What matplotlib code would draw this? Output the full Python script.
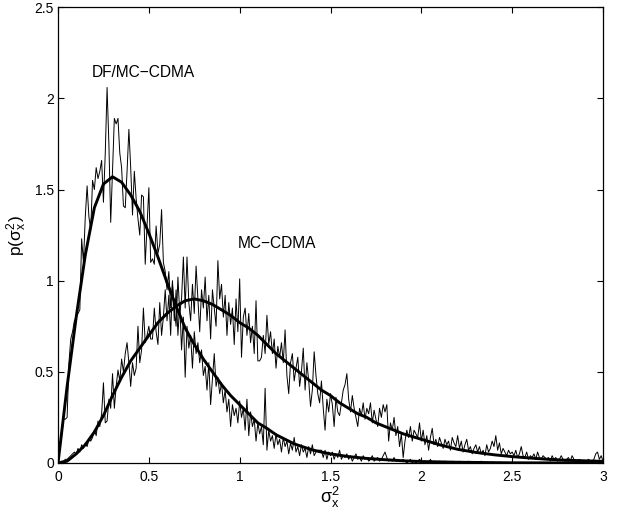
import numpy as np
import matplotlib
matplotlib.use("Agg")
import matplotlib.pyplot as plt

plt.rcParams['font.family'] = ['Liberation Sans', 'DejaVu Sans']
plt.rcParams['mathtext.fontset'] = 'custom'
plt.rcParams['mathtext.rm'] = 'Liberation Sans'
plt.rcParams['mathtext.it'] = 'Liberation Sans'

# ---- data ----
step = 0.01
df_hist = [
    0.00, 0.08, 0.15, 0.24, 0.24, 0.25, 0.55, 0.68, 0.72, 0.78,
    0.80, 0.82, 0.84, 1.23, 1.10, 1.35, 1.52, 1.35, 1.28, 1.55,
    1.50, 1.62, 1.56, 1.60, 1.66, 1.43, 1.70, 2.06, 1.75, 1.32,
    1.60, 1.89, 1.86, 1.89, 1.70, 1.62, 1.41, 1.40, 1.60, 1.83,
    1.62, 1.36, 1.60, 1.45, 1.34, 1.25, 1.47, 1.46, 1.09, 1.30,
    1.51, 1.10, 1.12, 1.09, 1.30, 1.15, 1.20, 1.39, 1.10, 1.05,
    0.95, 1.05, 0.85, 1.00, 0.78, 0.95, 0.70, 0.88, 0.62, 0.80,
    0.47, 0.75, 0.63, 0.70, 0.52, 0.72, 0.60, 0.66, 0.55, 0.62,
    0.48, 0.53, 0.40, 0.55, 0.32, 0.46, 0.60, 0.42, 0.47, 0.38,
    0.44, 0.33, 0.40, 0.28, 0.35, 0.20, 0.32, 0.26, 0.30, 0.22,
    0.34, 0.25, 0.30, 0.18, 0.35, 0.15, 0.28, 0.20, 0.24, 0.12,
    0.22, 0.16, 0.20, 0.10, 0.41, 0.07, 0.18, 0.12, 0.15, 0.08,
    0.16, 0.10, 0.13, 0.06, 0.14, 0.09, 0.12, 0.05, 0.11, 0.07,
    0.14, 0.06, 0.09, 0.04, 0.10, 0.06, 0.08, 0.03, 0.09, 0.05,
    0.10, 0.04, 0.06, 0.07, 0.07, 0.07, 0.03, 0.07, 0.02, 0.06,
    0.04, 0.06, 0.02, 0.05, 0.03, 0.07, 0.02, 0.04, 0.03, 0.05,
    0.02, 0.04, 0.01, 0.03, 0.05, 0.02, 0.03, 0.01, 0.04, 0.02,
    0.03, 0.01, 0.02, 0.04, 0.01, 0.02, 0.03, 0.01, 0.02, 0.04,
    0.06, 0.03, 0.01, 0.02, 0.01, 0.03, 0.01, 0.02, 0.01, 0.01,
    0.02, 0.01, 0.00, 0.01, 0.02, 0.00, 0.01, 0.00, 0.01, 0.02,
    0.01, 0.00, 0.01, 0.00, 0.00, 0.02, 0.00, 0.01, 0.00, 0.00,
    0.01, 0.00, 0.00, 0.01, 0.00, 0.00, 0.00, 0.01, 0.00, 0.00,
    0.00, 0.01, 0.00, 0.00, 0.00, 0.00, 0.01, 0.00, 0.00, 0.00,
    0.00, 0.00, 0.00, 0.01, 0.00, 0.00, 0.00, 0.00, 0.00, 0.00,
    0.00, 0.00, 0.00, 0.00, 0.00, 0.00, 0.00, 0.00, 0.00, 0.00,
    0.00, 0.00, 0.00, 0.00, 0.00, 0.00, 0.00, 0.00, 0.00, 0.00,
    0.00, 0.00, 0.00, 0.00, 0.00, 0.00, 0.00, 0.00, 0.00, 0.00,
    0.00, 0.00, 0.00, 0.00, 0.00, 0.00, 0.00, 0.00, 0.00, 0.00,
    0.00, 0.00, 0.00, 0.00, 0.00, 0.00, 0.00, 0.00, 0.00, 0.00,
    0.00, 0.00, 0.00, 0.00, 0.00, 0.00, 0.00, 0.00, 0.00, 0.00,
    0.00,
]

mc_hist = [
    0.00, 0.00, 0.01, 0.01, 0.02, 0.02, 0.03, 0.04, 0.05, 0.06,
    0.05, 0.08, 0.06, 0.10, 0.08, 0.11, 0.09, 0.13, 0.12, 0.14,
    0.18, 0.15, 0.23, 0.20, 0.27, 0.44, 0.22, 0.23, 0.35, 0.30,
    0.49, 0.30, 0.42, 0.51, 0.45, 0.57, 0.50, 0.60, 0.66, 0.55,
    0.42, 0.55, 0.48, 0.52, 0.75, 0.55, 0.62, 0.85, 0.66, 0.70,
    0.75, 0.68, 0.68, 0.85, 0.72, 0.65, 0.88, 0.70, 0.80, 0.95,
    0.78, 0.92, 0.70, 0.98, 0.85, 0.75, 1.02, 0.82, 0.90, 1.13,
    0.85, 1.13, 0.88, 0.78, 0.98, 0.82, 1.08, 0.90, 0.72, 0.95,
    0.85, 1.02, 0.78, 0.92, 0.68, 0.95, 0.85, 0.75, 1.11, 0.90,
    0.98, 0.80, 0.92, 0.70, 0.88, 0.76, 0.85, 0.65, 0.90, 0.72,
    1.01, 0.58, 0.80, 0.85, 0.70, 0.82, 0.66, 0.75, 0.60, 0.89,
    0.56, 0.56, 0.58, 0.70, 0.60, 0.81, 0.65, 0.72, 0.60, 0.68,
    0.52, 0.64, 0.58, 0.66, 0.55, 0.73, 0.48, 0.38, 0.55, 0.60,
    0.45, 0.52, 0.58, 0.42, 0.50, 0.63, 0.40, 0.55, 0.45, 0.31,
    0.40, 0.61, 0.48, 0.38, 0.33, 0.45, 0.30, 0.18, 0.35, 0.28,
    0.38, 0.32, 0.20, 0.36, 0.28, 0.26, 0.33, 0.40, 0.43, 0.49,
    0.35, 0.28, 0.37, 0.30, 0.25, 0.20, 0.30, 0.26, 0.33, 0.24,
    0.30, 0.27, 0.33, 0.22, 0.29, 0.24, 0.20, 0.30, 0.25, 0.32,
    0.28, 0.32, 0.12, 0.22, 0.18, 0.25, 0.15, 0.20, 0.09, 0.16,
    0.03, 0.12, 0.18, 0.14, 0.20, 0.12, 0.18, 0.16, 0.14, 0.22,
    0.12, 0.18, 0.10, 0.15, 0.07, 0.14, 0.19, 0.10, 0.13, 0.09,
    0.14, 0.11, 0.08, 0.13, 0.10, 0.12, 0.07, 0.14, 0.11, 0.09,
    0.15, 0.08, 0.12, 0.06, 0.10, 0.13, 0.07, 0.09, 0.05, 0.08,
    0.10, 0.06, 0.09, 0.05, 0.07, 0.04, 0.10, 0.06, 0.08, 0.12,
    0.09, 0.15, 0.07, 0.11, 0.05, 0.08, 0.06, 0.04, 0.07, 0.05,
    0.06, 0.04, 0.07, 0.03, 0.05, 0.09, 0.04, 0.03, 0.06, 0.02,
    0.04, 0.03, 0.05, 0.02, 0.06, 0.03, 0.02, 0.04, 0.03, 0.02,
    0.03, 0.01, 0.04, 0.02, 0.03, 0.01, 0.02, 0.04, 0.02, 0.01,
    0.02, 0.03, 0.01, 0.04, 0.02, 0.01, 0.01, 0.02, 0.01, 0.01,
    0.01, 0.01, 0.02, 0.01, 0.01, 0.02, 0.05, 0.06, 0.02, 0.04,
    0.01,
]

df_fit_x = [0.00, 0.05, 0.10, 0.15, 0.20, 0.25, 0.30, 0.35, 0.40, 0.45,
            0.50, 0.55, 0.60, 0.65, 0.70, 0.75, 0.80, 0.85, 0.90, 0.95,
            1.00, 1.05, 1.10, 1.15, 1.20, 1.25, 1.30, 1.35, 1.40, 1.45,
            1.50, 1.60, 1.70, 1.80, 1.90, 2.00, 2.20, 2.50, 3.00]
df_fit_y = [0.00, 0.42, 0.80, 1.14, 1.40, 1.53, 1.57, 1.54, 1.47, 1.38,
            1.26, 1.13, 0.99, 0.86, 0.74, 0.65, 0.57, 0.50, 0.43, 0.37,
            0.32, 0.27, 0.22, 0.19, 0.155, 0.13, 0.105, 0.088, 0.072, 0.060,
            0.050, 0.035, 0.025, 0.018, 0.012, 0.008, 0.004, 0.001, 0.000]

mc_fit_x = [0.00, 0.05, 0.10, 0.15, 0.20, 0.25, 0.30, 0.35, 0.40, 0.45,
            0.50, 0.55, 0.60, 0.65, 0.70, 0.75, 0.80, 0.85, 0.90, 0.95,
            1.00, 1.05, 1.10, 1.15, 1.20, 1.25, 1.30, 1.35, 1.40, 1.45,
            1.50, 1.55, 1.60, 1.65, 1.70, 1.75, 1.80, 1.85, 1.90, 1.95,
            2.00, 2.10, 2.20, 2.30, 2.40, 2.50, 2.60, 2.70, 2.80, 2.90, 3.00]
mc_fit_y = [0.00, 0.01, 0.05, 0.10, 0.17, 0.26, 0.37, 0.47, 0.56, 0.63,
            0.70, 0.77, 0.82, 0.86, 0.89, 0.90, 0.89, 0.87, 0.84, 0.81,
            0.77, 0.74, 0.70, 0.65, 0.60, 0.56, 0.52, 0.48, 0.44, 0.40,
            0.37, 0.33, 0.30, 0.27, 0.25, 0.22, 0.20, 0.18, 0.16, 0.145,
            0.13, 0.10, 0.075, 0.058, 0.045, 0.035, 0.027, 0.020, 0.015, 0.012, 0.009]

x_ticks = [0, 0.5, 1, 1.5, 2, 2.5, 3]
x_tick_labels = ["0", "0.5", "1", "1.5", "2", "2.5", "3"]
y_ticks = [0, 0.5, 1, 1.5, 2, 2.5]
y_tick_labels = ["0", "0.5", "1", "1.5", "2", "2.5"]

hist_x = np.arange(len(df_hist)) * step

# ---- plot ----
fig = plt.figure(figsize=(6.37, 5.15), dpi=100)
ax = fig.add_axes([0.0911, 0.101, 0.8555, 0.885])

ax.plot(hist_x, df_hist, color='black', lw=0.7)
ax.plot(hist_x, mc_hist, color='black', lw=0.7)
ax.plot(df_fit_x, df_fit_y, color='black', lw=2.1)
ax.plot(mc_fit_x, mc_fit_y, color='black', lw=2.1)

ax.set_xlim(0, 3)
ax.set_ylim(0, 2.5)
ax.set_xticks(x_ticks)
ax.set_xticklabels(x_tick_labels)
ax.set_yticks(y_ticks)
ax.set_yticklabels(y_tick_labels)
ax.tick_params(direction='in', length=4.5, width=0.8, top=True, right=True,
               labelsize=10)
ax.tick_params(axis='x', pad=5)
ax.tick_params(axis='y', pad=3)
for s in ax.spines.values():
    s.set_linewidth(0.9)

ax.set_xlabel(r'$\sigma_x^2$', fontsize=13, labelpad=1)
ax.set_ylabel(r'p($\sigma_x^2$)', fontsize=12.5, labelpad=4)

ax.text(0.187, 2.14, 'DF/MC\u2212CDMA', fontsize=11.2, va='center', ha='left')
ax.text(0.99, 1.206, 'MC\u2212CDMA', fontsize=11.2, va='center', ha='left')

fig.savefig('out.png', dpi=100)
